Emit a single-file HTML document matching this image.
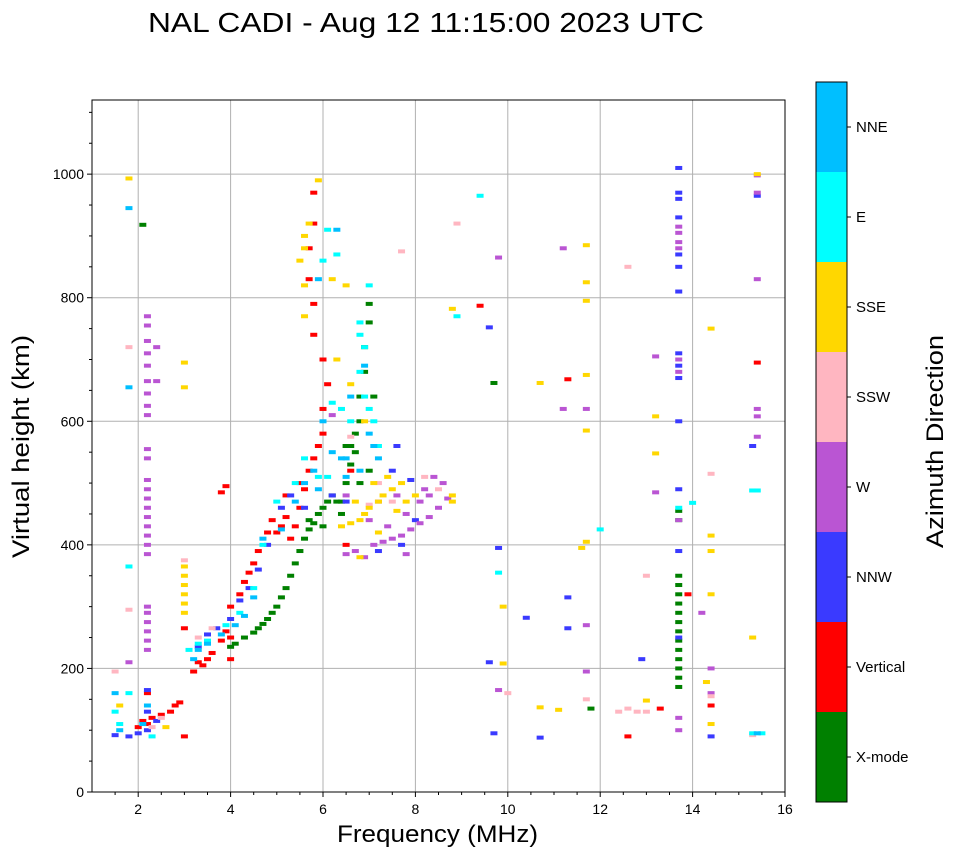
<!DOCTYPE html>
<html><head><meta charset="utf-8">
<style>
html,body{margin:0;padding:0;background:#fff;}
svg text{font-family:"Liberation Sans","DejaVu Sans",sans-serif;fill:#000;}
</style></head>
<body>
<svg id="chart" width="958" height="857" viewBox="0 0 958 857" xmlns="http://www.w3.org/2000/svg">
<text x="148" y="32" font-size="28" textLength="556" lengthAdjust="spacingAndGlyphs">NAL CADI - Aug 12 11:15:00 2023 UTC</text>
<g id="grid"></g>
<g id="marks"></g>
<rect x="92" y="100" width="693" height="692" fill="none" stroke="#000" stroke-width="1"/>
<g id="axes"></g>
<text x="337" y="842" font-size="24" textLength="201" lengthAdjust="spacingAndGlyphs">Frequency (MHz)</text>
<text transform="translate(29,558) rotate(-90)" font-size="24" textLength="223" lengthAdjust="spacingAndGlyphs">Virtual height (km)</text>
<g id="cbar"></g>
<text transform="translate(943,548) rotate(-90)" font-size="24" textLength="213" lengthAdjust="spacingAndGlyphs">Azimuth Direction</text>
</svg>
<script>
const dirNames = ["X-mode","Vertical","NNW","W","SSW","SSE","E","NNE"];
const dirColors = ["#008000","#ff0000","#3a3aff","#ba55d3","#ffb6c1","#ffd700","#00ffff","#00bfff"];
const xTicks = [2,4,6,8,10,12,14,16];
const yTicks = [0,200,400,600,800,1000];
const xmode = [[4.0,235],[4.1,240],[4.3,250],[4.5,258],[4.6,265],[4.7,272],[4.8,280],[4.9,290],[5.0,300],[5.1,315],[5.2,330],[5.3,350],[5.4,370],[5.5,390],[5.6,410],[5.7,425],[5.8,435],[5.9,450],[6.0,460],[6.1,470],[6.2,480],[6.3,470],[6.4,470],[6.5,500],[6.6,530],[6.6,560],[6.7,580],[6.8,600],[6.8,640],[6.9,680],[6.9,720],[7.0,760],[7.0,790],[6.7,550],[6.5,560],[7.1,640],[5.7,440],[6.0,430],[2.1,918],[9.7,662],[11.8,135],[13.7,455],[13.7,440],[13.7,350],[13.7,335],[13.7,320],[13.7,305],[13.7,290],[13.7,275],[13.7,260],[13.7,245],[13.7,230],[13.7,215],[13.7,200],[13.7,185],[13.7,170],[6.4,450],[6.8,500],[7.0,520]];
const vertical = [[2.0,105],[2.1,115],[2.2,110],[2.3,120],[2.5,125],[2.7,130],[2.8,140],[2.9,145],[3.0,90],[3.2,195],[3.3,210],[3.4,205],[3.5,215],[3.6,225],[3.8,245],[3.9,260],[4.0,250],[4.0,300],[4.2,320],[4.3,340],[4.4,355],[4.5,370],[4.6,390],[4.8,420],[4.9,440],[5.0,420],[5.1,430],[5.2,445],[5.3,410],[5.4,430],[5.5,460],[5.6,490],[5.7,520],[5.8,540],[5.9,560],[6.0,580],[6.0,620],[6.1,660],[6.0,700],[5.8,740],[5.8,790],[5.7,830],[5.7,880],[5.8,920],[5.8,970],[3.8,485],[3.9,495],[4.0,215],[3.0,265],[2.2,160],[6.5,400],[6.6,520],[11.3,668],[9.4,787],[12.6,90],[13.3,135],[13.9,320],[14.4,140],[15.4,695],[5.5,500],[5.2,480]];
const nnw = [[1.5,92],[1.8,90],[2.0,95],[2.2,100],[2.2,130],[2.2,165],[2.4,115],[3.3,235],[3.5,255],[3.7,265],[4.0,280],[4.2,310],[4.4,330],[4.6,360],[4.8,400],[5.1,460],[5.3,480],[5.6,460],[6.2,480],[6.5,470],[7.6,560],[7.5,520],[7.9,505],[8.0,440],[7.7,400],[7.2,390],[9.8,395],[9.6,210],[9.7,95],[10.4,282],[10.7,88],[11.3,315],[11.3,265],[12.9,215],[13.7,1010],[13.7,970],[13.7,960],[13.7,930],[13.7,870],[13.7,850],[13.7,810],[13.7,710],[13.7,690],[13.7,670],[13.7,600],[13.7,490],[13.7,390],[13.7,250],[14.4,90],[15.3,560],[9.6,752],[15.4,965]];
const west = [[2.2,230],[2.2,245],[2.2,260],[2.2,275],[2.2,290],[2.2,300],[2.2,385],[2.2,400],[2.2,415],[2.2,430],[2.2,445],[2.2,460],[2.2,475],[2.2,490],[2.2,505],[2.2,540],[2.2,555],[2.2,610],[2.2,625],[2.2,645],[2.2,665],[2.2,690],[2.2,710],[2.2,730],[2.2,755],[2.2,770],[1.8,210],[2.4,720],[2.4,665],[6.5,385],[6.7,390],[7.1,400],[7.3,405],[7.5,410],[7.7,415],[7.9,425],[8.1,435],[8.3,445],[8.5,460],[8.7,475],[7.8,450],[8.1,470],[8.3,480],[7.6,480],[7.4,430],[7.0,440],[6.9,380],[7.8,385],[8.6,500],[8.4,510],[9.8,865],[9.8,165],[11.2,880],[11.2,620],[11.7,620],[11.7,270],[11.7,195],[13.2,705],[13.2,485],[13.7,915],[13.7,905],[13.7,890],[13.7,880],[13.7,700],[13.7,680],[13.7,440],[13.7,100],[13.7,120],[14.2,290],[14.4,200],[14.4,160],[15.4,620],[15.4,608],[15.4,575],[15.4,830],[15.4,970],[15.4,998],[6.2,610],[6.5,480],[8.2,490],[7.2,470]];
const ssw = [[1.5,195],[1.8,720],[1.8,295],[2.3,105],[2.5,120],[3.0,375],[3.6,265],[3.3,250],[7.0,465],[7.5,470],[8.2,510],[8.5,490],[7.2,500],[6.6,575],[7.7,875],[8.9,920],[10.0,160],[12.4,130],[12.6,135],[12.8,130],[13.0,130],[12.6,850],[13.0,350],[14.4,515],[14.4,155],[15.3,92],[11.7,150]];
const sse = [[1.8,993],[1.6,140],[2.6,105],[3.0,290],[3.0,305],[3.0,320],[3.0,335],[3.0,350],[3.0,365],[3.0,695],[3.0,655],[5.6,880],[5.6,900],[5.5,860],[5.7,920],[5.6,820],[5.6,770],[5.9,990],[6.2,830],[6.3,700],[6.4,430],[6.6,435],[6.8,440],[6.7,470],[6.9,450],[7.0,460],[7.2,470],[7.3,480],[7.5,490],[7.7,500],[7.1,500],[7.4,510],[7.6,455],[7.8,470],[8.0,480],[6.8,380],[7.2,420],[6.5,820],[6.6,660],[6.9,600],[8.8,782],[8.8,470],[8.8,480],[9.9,300],[9.9,208],[10.7,662],[10.7,137],[11.1,133],[11.6,395],[11.7,885],[11.7,825],[11.7,795],[11.7,675],[11.7,585],[11.7,405],[13.0,148],[13.2,608],[13.2,548],[14.4,750],[14.3,178],[14.4,415],[14.4,390],[14.4,320],[14.4,110],[15.3,250],[15.4,1000]];
const east = [[1.5,130],[1.6,110],[1.8,365],[1.8,160],[2.3,90],[3.1,230],[3.3,240],[3.5,245],[3.9,270],[4.2,290],[4.5,330],[4.7,400],[5.0,470],[5.4,500],[5.6,540],[5.9,510],[6.1,510],[6.2,630],[6.4,620],[6.6,600],[6.8,680],[6.9,640],[7.0,620],[7.1,600],[7.2,560],[6.8,760],[6.8,740],[6.9,720],[7.0,820],[6.0,860],[6.1,910],[6.3,870],[9.4,965],[8.9,770],[9.8,355],[12.0,425],[13.7,460],[14.0,468],[15.3,488],[15.4,488],[15.3,95],[15.5,95]];
const nne = [[1.5,160],[1.6,100],[1.8,945],[1.8,655],[2.1,110],[2.2,140],[3.2,215],[3.3,230],[3.5,240],[3.8,255],[4.1,270],[4.3,285],[4.5,315],[4.7,410],[5.1,425],[5.4,470],[5.6,500],[5.8,520],[5.9,490],[6.0,600],[6.2,550],[6.4,540],[6.5,510],[6.6,640],[6.8,520],[7.0,580],[7.1,560],[5.9,830],[6.3,910],[6.5,540],[6.9,690],[7.2,540],[15.4,95]];
const seriesList = [xmode,vertical,nnw,west,ssw,sse,east,nne];

const NS="http://www.w3.org/2000/svg";
const X0=92,X1=785,Y0=792,Y1=100,FMIN=1,FMAX=16,HMIN=0,HMAX=1120;
function xs(f){return X0+(f-FMIN)/(FMAX-FMIN)*(X1-X0);}
function ys(h){return Y0-(h-HMIN)/(HMAX-HMIN)*(Y0-Y1);}
function mk(tag,attrs,parent){const e=document.createElementNS(NS,tag);for(const k in attrs)e.setAttribute(k,attrs[k]);parent.appendChild(e);return e;}
const grid=document.getElementById('grid'),axes=document.getElementById('axes'),marks=document.getElementById('marks'),cbar=document.getElementById('cbar');
xTicks.forEach(t=>{const x=xs(t);
 if(t<FMAX){const g=mk('line',{x1:x,x2:x,y1:Y1,y2:Y0,stroke:'#b0b0b0','stroke-width':1},grid);
 
 }
 mk('line',{x1:x,x2:x,y1:Y0,y2:Y0+5,stroke:'#000'},axes);
 const tx=mk('text',{x:x,y:Y0+22,'font-size':14,'text-anchor':'middle'},axes);tx.textContent=t;
 
 });
for(let f=1.5;f<16;f+=0.5){if(Number.isInteger(f/2))continue;const x=xs(f);mk('line',{x1:x,x2:x,y1:Y0,y2:Y0+3,stroke:'#000'},axes);}
yTicks.forEach(t=>{const y=ys(t);
 const g=mk('line',{x1:X0,x2:X1,y1:y,y2:y,stroke:'#b0b0b0','stroke-width':1},grid);
 
 
 mk('line',{x1:X0-5,x2:X0,y1:y,y2:y,stroke:'#000'},axes);
 const tx=mk('text',{x:X0-8,y:y+5,'font-size':14,'text-anchor':'end'},axes);tx.textContent=t;
 
 });
for(let h=50;h<HMAX;h+=50){if(h%200===0)continue;const y=ys(h);mk('line',{x1:X0-3,x2:X0,y1:y,y2:y,stroke:'#000'},axes);}
seriesList.forEach((s,di)=>{s.forEach(p=>{
 const r=mk('rect',{x:xs(p[0])-3.5,y:ys(p[1])-2,width:7,height:4,fill:dirColors[di]},marks);
 
 });});
const CX=816,CW=31,CT=82,CB=802,seg=(CB-CT)/dirNames.length;
dirNames.forEach((n,i)=>{const y=CB-(i+1)*seg;
 const r=mk('rect',{x:CX,y:y,width:CW,height:seg,fill:dirColors[i]},cbar);
 
 
 mk('line',{x1:CX+CW,x2:CX+CW+4,y1:y+seg/2,y2:y+seg/2,stroke:'#000'},cbar);
 const t=mk('text',{x:856,y:y+seg/2+5,'font-size':15},cbar);t.textContent=n;
 
 });
mk('rect',{x:CX,y:CT,width:CW,height:CB-CT,fill:'none',stroke:'#000'},cbar);
</script>
</body></html>
